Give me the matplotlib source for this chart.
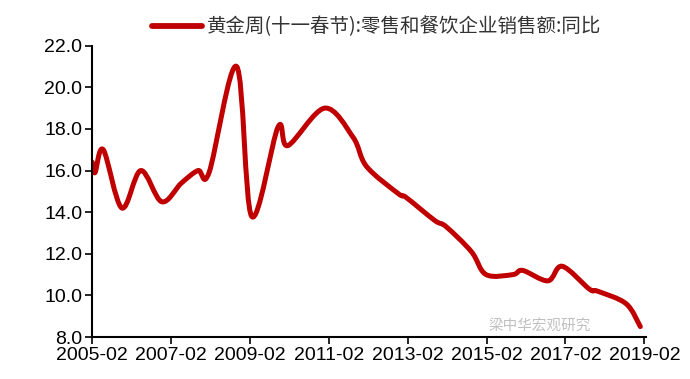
import matplotlib
matplotlib.use("Agg")
import matplotlib.pyplot as plt
from matplotlib.path import Path
from matplotlib.patches import PathPatch
from matplotlib.lines import Line2D

# Values (x in decimal years)
years = [2005.09, 2005.16, 2005.37, 2005.84, 2006.32, 2006.85, 2007.35, 2007.77,
         2008.05, 2008.75, 2009.13, 2009.80, 2010.05, 2010.98, 2011.70, 2012.04,
         2012.84, 2013.05, 2013.77, 2014.06, 2014.70, 2015.07, 2015.75, 2016.00,
         2016.64, 2017.00, 2017.69, 2017.90, 2018.62, 2018.98]
growth = [16.4, 15.9, 17.0, 14.2, 16.0, 14.5, 15.4, 16.0,
          15.9, 21.0, 13.8, 18.1, 17.2, 19.0, 17.6, 16.2,
          14.9, 14.7, 13.6, 13.3, 12.1, 11.0, 11.0, 11.2,
          10.7, 11.4, 10.3, 10.2, 9.6, 8.5]
tick_years = [2005.083, 2007.083, 2009.083, 2011.083, 2013.083, 2015.083, 2017.083, 2019.083]
tick_labels = ["2005-02", "2007-02", "2009-02", "2011-02", "2013-02", "2015-02", "2017-02", "2019-02"]
label = "黄金周(十一春节):零售和餐饮企业销售额:同比"

plt.rcParams["font.family"] = ["Liberation Sans", "Noto Sans CJK SC", "DejaVu Sans"]
red = "#C00000"

fig = plt.figure(figsize=(6.9, 3.79), dpi=100)
ax = fig.add_axes([0.1333, 0.1108, 0.8027, 0.7686])

# smoothed line (Catmull-Rom style bezier through the read points)
pts = list(zip(years, growth))
verts = [pts[0]]
codes = [Path.MOVETO]
n = len(pts)
for i in range(n - 1):
    p0 = pts[i - 1] if i > 0 else pts[i]
    p1 = pts[i]
    p2 = pts[i + 1]
    p3 = pts[i + 2] if i + 2 < n else pts[i + 1]
    c1 = (p1[0] + (p2[0] - p0[0]) / 6, p1[1] + (p2[1] - p0[1]) / 6)
    c2 = (p2[0] - (p3[0] - p1[0]) / 6, p2[1] - (p3[1] - p1[1]) / 6)
    verts += [c1, c2, p2]
    codes += [Path.CURVE4] * 3
patch = PathPatch(Path(verts, codes), facecolor="none", edgecolor=red, lw=3.6,
                  capstyle="round", joinstyle="round")
ax.add_patch(patch)

ax.set_xlim(2005.083, 2019.12)
ax.set_ylim(8, 22)
ax.set_yticks([8, 10, 12, 14, 16, 18, 20, 22])
ax.set_yticklabels([f"{v:.1f}" for v in [8, 10, 12, 14, 16, 18, 20, 22]])
ax.set_xticks(tick_years)
ax.set_xticklabels(tick_labels)
ax.tick_params(labelsize=14, length=5, width=1.2, pad=2, direction="out")
for s in ["top", "right"]:
    ax.spines[s].set_visible(False)
for s in ["left", "bottom"]:
    ax.spines[s].set_linewidth(1.5)

handle = Line2D([], [], color=red, lw=4.2, solid_capstyle="round")
leg = fig.legend([handle], [label], loc="center", bbox_to_anchor=(0.546, 0.929),
                 frameon=False, handlelength=2.6, handletextpad=0.25,
                 prop={"family": ["Noto Sans CJK SC", "DejaVu Sans"], "size": 14})
for t in leg.get_texts():
    t.set_color("#333333")

# watermark (kept just above the x axis so it doesn't collide with tick labels)
ax.text(0.9, 0.015, "梁中华宏观研究", transform=ax.transAxes, ha="right", va="bottom",
        color="#c0c0c0", fontsize=10.5, family=["Noto Sans CJK SC"], zorder=10)

fig.savefig("out.png", dpi=100)
